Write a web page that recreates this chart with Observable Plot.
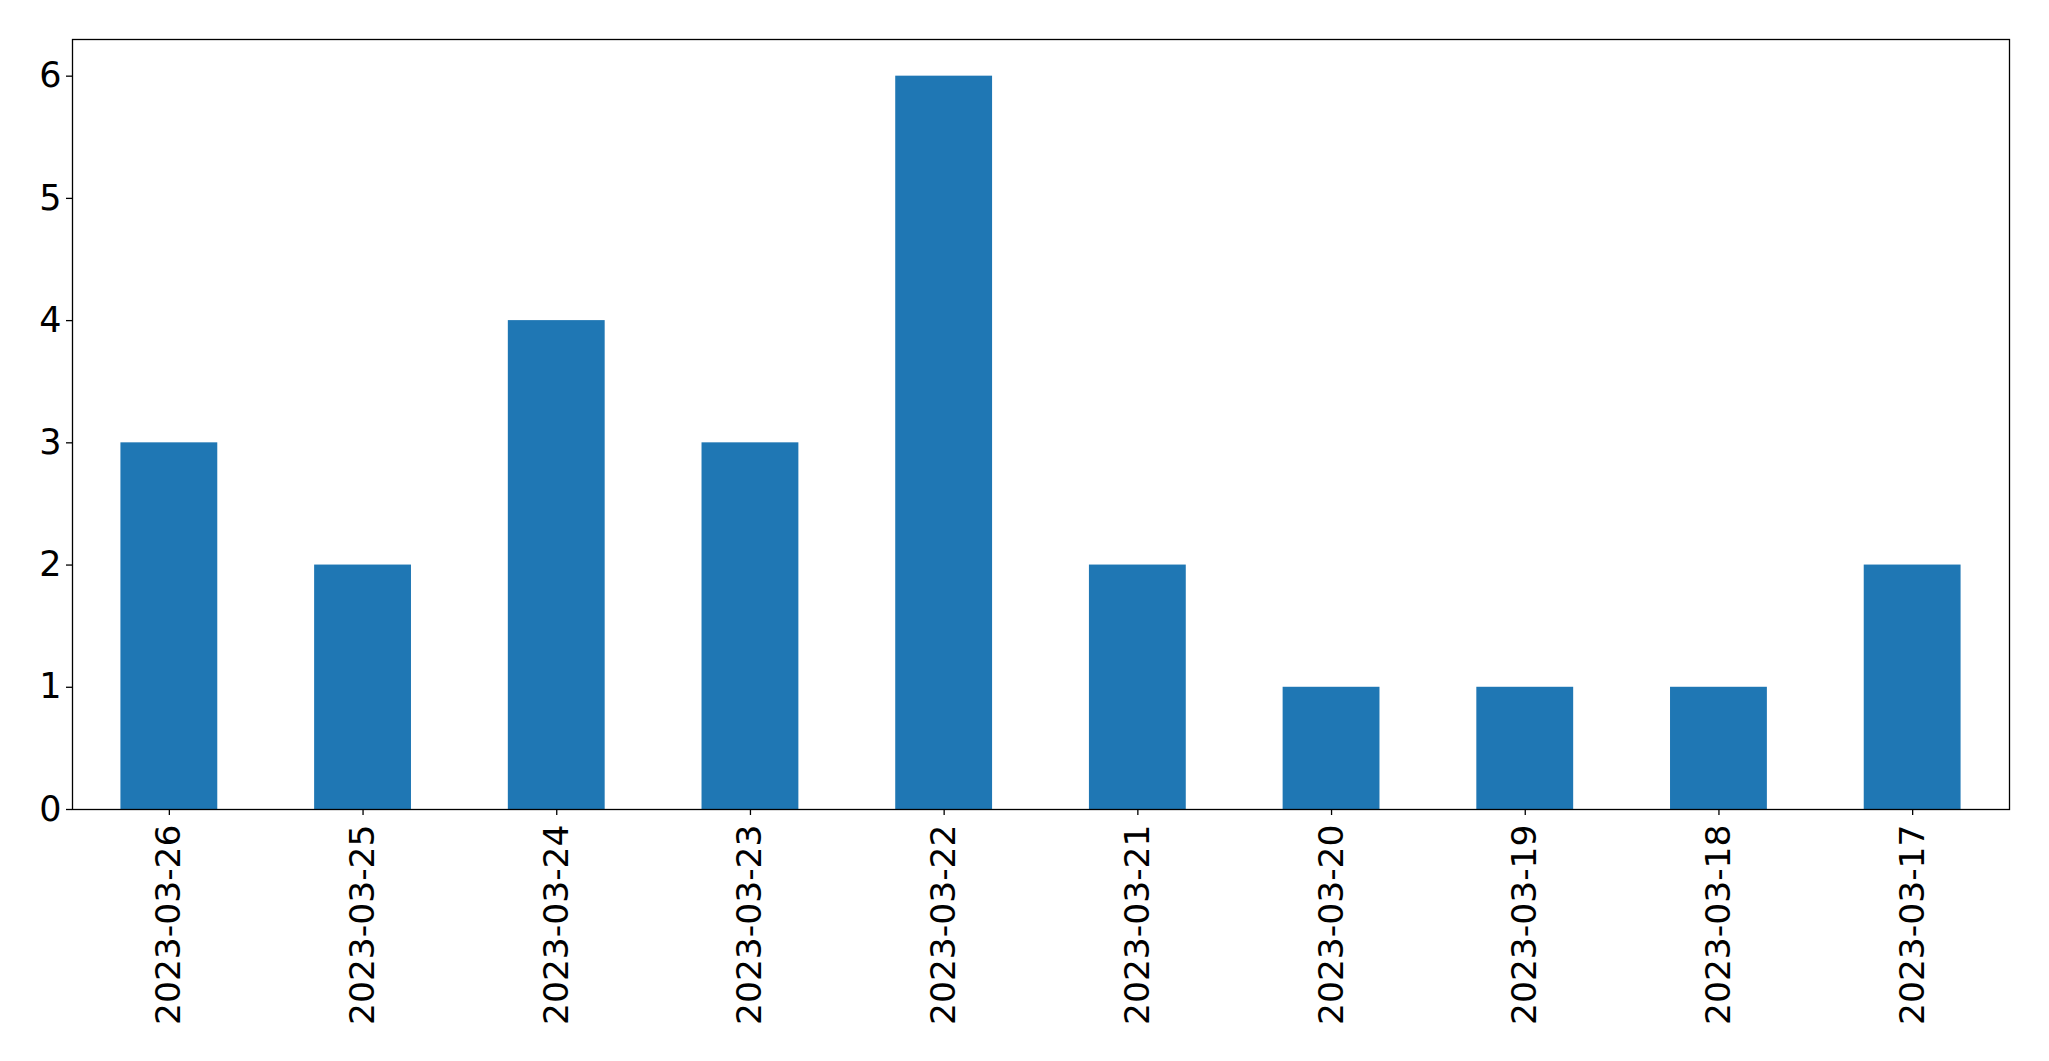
<!DOCTYPE html>
<html>
<head>
<meta charset="utf-8">
<script src="https://cdn.jsdelivr.net/npm/d3@7"></script>
<script src="https://cdn.jsdelivr.net/npm/@observablehq/plot@0.6"></script>
<style>
  html, body { margin: 0; padding: 0; background: #fff; }
  #chart svg { display: block; }
</style>
</head>
<body>
<div id="chart"></div>
<script>
const dates = ["2023-03-26", "2023-03-25", "2023-03-24", "2023-03-23", "2023-03-22",
               "2023-03-21", "2023-03-20", "2023-03-19", "2023-03-18", "2023-03-17"];
const counts = [3, 2, 4, 3, 6, 2, 1, 1, 1, 2];
const yTicks = [0, 1, 2, 3, 4, 5, 6];

const data = dates.map((d, i) => ({date: d, count: counts[i]}));

const chart = Plot.plot({
  width: 2049,
  height: 1061,
  marginLeft: 72,
  marginRight: 40,
  marginTop: 39,
  marginBottom: 252,
  style: {fontFamily: "'DejaVu Sans', sans-serif", fontSize: "34px", color: "black", background: "white"},
  x: {domain: dates, paddingInner: 0.5, paddingOuter: 0.25, round: false, label: null},
  y: {domain: [0, 6.3], label: null},
  marks: [
    Plot.barY(data, {x: "date", y: "count", fill: "#1f77b4"}),
    Plot.axisY({ticks: yTicks, tickSize: 6, tickPadding: 5, tickFormat: d => String(d), fontSize: 35, strokeWidth: 1.3, label: null}),
    Plot.axisX({tickSize: 6, tickPadding: 9, tickRotate: -90, fontSize: 34.5, strokeWidth: 1.3, label: null}),
    Plot.frame({stroke: "black", strokeWidth: 1.3})
  ]
});
document.getElementById("chart").appendChild(chart);
</script>
</body>
</html>
